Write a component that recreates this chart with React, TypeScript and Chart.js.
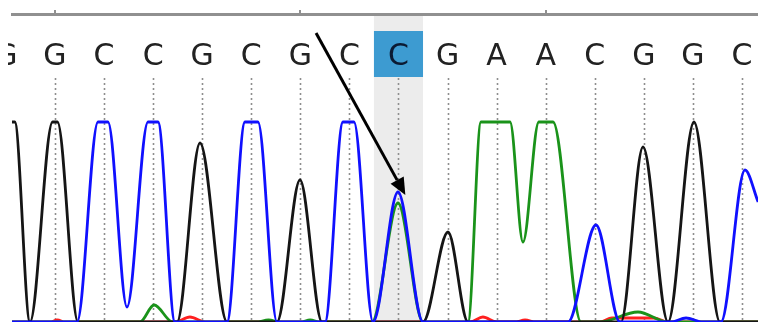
import { useEffect, useRef } from "react";
import { Chart, registerables } from "chart.js";

Chart.register(...registerables);

// Called bases and their positions (in base-index units)
const bases = ["G", "G", "C", "C", "G", "C", "G", "C", "C", "G", "A", "A", "C", "G", "G", "C"];
const basePositions = [0, 1, 2, 3, 4, 5, 6, 7, 8, 9, 10, 11, 12, 13, 14, 15];
const highlightIndex = 8;
const rulerTicks = [1, 6, 11];

// Trace points [position, intensity]
const traceG: number[][] = [
  [0.124, 1000], [0.18, 1000], [0.49, 0], [0.95, 1000], [1.05, 1000], [1.469, 0],
  [3.486, 0], [3.955, 895], [4.505, 0], [5.524, 0], [5.993, 710], [6.441, 0],
  [8.5, 0], [9.009, 450], [9.417, 0], [12.534, 0], [12.983, 875], [13.492, 0],
  [14.022, 1000], [14.552, 0], [15.33, 0],
];
const traceC: number[][] = [
  [0.124, 0], [1.449, 0], [1.876, 1000], [2.08, 1000], [2.467, 75], [2.895, 1000],
  [3.099, 1000], [3.445, 0], [4.505, 0], [4.872, 1000], [5.137, 1000], [5.524, 0],
  [6.502, 0], [6.869, 1000], [7.093, 1000], [7.481, 0], [7.99, 650], [8.5, 0],
  [11.454, 0], [12.025, 485], [12.514, 0], [13.55, 0], [13.86, 20], [14.2, 0],
  [14.572, 0], [15.061, 760], [15.33, 600],
];
const traceA: number[][] = [
  [0.124, 0], [2.73, 0], [3.02, 85], [3.4, 0], [5.1, 0], [5.35, 10], [5.6, 0],
  [6.0, 0], [6.2, 10], [6.4, 0], [7.46, 0], [7.99, 595], [8.5, 0], [9.417, 0],
  [9.681, 1000], [10.273, 1000], [10.537, 400], [10.86, 1000], [11.15, 1000],
  [11.719, 0], [12.1, 0], [12.88, 50], [13.49, 0], [15.33, 0],
];
const traceT: number[][] = [
  [0.124, 0], [0.9, 0], [1.05, 10], [1.2, 0], [3.45, 0], [3.75, 25], [4.06, 0],
  [9.46, 0], [9.72, 25], [10.0, 0], [10.37, 0], [10.58, 10], [10.8, 0],
  [12.1, 0], [12.35, 20], [13.2, 20], [13.5, 0], [15.33, 0],
];

// Arrow pointing at the highlighted peak: [position, intensity]
const arrowFrom = [6.32, 1445];
const arrowTo = [8.14, 635];

const toXY = (arr: number[][]) => arr.map(([x, y]) => ({ x, y }));

const decorPlugin = {
  id: "decor",
  beforeDatasetsDraw(chart: any) {
    const { ctx, chartArea, scales } = chart;
    const xs = scales.x;
    const bottom = chartArea.bottom;
    // highlight band
    const hx0 = xs.getPixelForValue(basePositions[highlightIndex] - 0.5);
    const hx1 = xs.getPixelForValue(basePositions[highlightIndex] + 0.5);
    ctx.save();
    ctx.fillStyle = "#ececec";
    ctx.fillRect(hx0, 16, hx1 - hx0, bottom - 16);
    // dotted lines
    ctx.beginPath();
    ctx.rect(9, 0, chartArea.right - 9, bottom);
    ctx.clip();
    ctx.strokeStyle = "#8e8e8e";
    ctx.lineWidth = 1.6;
    ctx.setLineDash([2, 3]);
    basePositions.forEach((p) => {
      const x = Math.round(xs.getPixelForValue(p)) + 0.5;
      ctx.beginPath();
      ctx.moveTo(x, 78);
      ctx.lineTo(x, bottom);
      ctx.stroke();
    });
    ctx.restore();
  },
  afterDatasetsDraw(chart: any) {
    const { ctx, chartArea, scales } = chart;
    const xs = scales.x;
    const ys = scales.y;
    ctx.save();
    // ruler
    ctx.strokeStyle = "#909090";
    ctx.lineWidth = 3;
    ctx.beginPath();
    ctx.moveTo(11, 14.5);
    ctx.lineTo(chartArea.right, 14.5);
    ctx.stroke();
    ctx.lineWidth = 2;
    rulerTicks.forEach((p) => {
      const x = Math.round(xs.getPixelForValue(p));
      ctx.beginPath();
      ctx.moveTo(x, 10);
      ctx.lineTo(x, 14);
      ctx.stroke();
    });
    // highlight box
    const hx0 = xs.getPixelForValue(basePositions[highlightIndex] - 0.5);
    const hx1 = xs.getPixelForValue(basePositions[highlightIndex] + 0.5);
    ctx.fillStyle = "#3d9bd1";
    ctx.fillRect(hx0, 31, hx1 - hx0, 46);
    // letters
    ctx.beginPath();
    ctx.rect(8, 0, chartArea.right - 8, 80);
    ctx.clip();
    ctx.font = "30px 'DejaVu Sans', sans-serif";
    ctx.textAlign = "center";
    ctx.textBaseline = "alphabetic";
    bases.forEach((b, i) => {
      ctx.fillStyle = i === highlightIndex ? "#0b1a33" : "#222222";
      ctx.fillText(b, xs.getPixelForValue(basePositions[i]), 65);
    });
    ctx.restore();
    // arrow
    ctx.save();
    const x0 = xs.getPixelForValue(arrowFrom[0]);
    const y0 = ys.getPixelForValue(arrowFrom[1]);
    const x1 = xs.getPixelForValue(arrowTo[0]);
    const y1 = ys.getPixelForValue(arrowTo[1]);
    const ang = Math.atan2(y1 - y0, x1 - x0);
    const headLen = 17;
    const headW = 7.5;
    const bx = x1 - headLen * Math.cos(ang);
    const by = y1 - headLen * Math.sin(ang);
    ctx.strokeStyle = "#000";
    ctx.fillStyle = "#000";
    ctx.lineWidth = 3;
    ctx.beginPath();
    ctx.moveTo(x0, y0);
    ctx.lineTo(bx, by);
    ctx.stroke();
    ctx.beginPath();
    ctx.moveTo(x1, y1);
    ctx.lineTo(bx + headW * Math.sin(ang), by - headW * Math.cos(ang));
    ctx.lineTo(bx - headW * Math.sin(ang), by + headW * Math.cos(ang));
    ctx.closePath();
    ctx.fill();
    ctx.restore();
  },
};

export default function App() {
  const canvasRef = useRef<HTMLCanvasElement | null>(null);

  useEffect(() => {
    if (!canvasRef.current) return;
    const common = {
      pointRadius: 0,
      borderWidth: 2.8,
      fill: false,
      cubicInterpolationMode: "monotone" as const,
    };
    const chart = new Chart(canvasRef.current, {
      type: "line",
      data: {
        datasets: [
          { label: "C", data: toXY(traceC), borderColor: "#1010ff", ...common },
          { label: "G", data: toXY(traceG), borderColor: "#151515", ...common },
          { label: "A", data: toXY(traceA), borderColor: "#1a931a", ...common },
          { label: "T", data: toXY(traceT), borderColor: "#ff2020", ...common },
        ],
      },
      options: {
        animation: false,
        responsive: false,
        events: [],
        layout: { padding: 0 },
        plugins: { legend: { display: false }, tooltip: { enabled: false } },
        scales: {
          x: { type: "linear", min: -0.1208, max: 15.3266, display: false },
          y: { type: "linear", min: 0, max: 1610, display: false },
        },
      },
      plugins: [decorPlugin],
    });
    return () => chart.destroy();
  }, []);

  return (
    <div style={{ position: "fixed", left: 0, top: 0, width: 758, height: 322, background: "#fff" }}>
      <canvas ref={canvasRef} width={758} height={322} style={{ display: "block", width: 758, height: 322 }} />
    </div>
  );
}
